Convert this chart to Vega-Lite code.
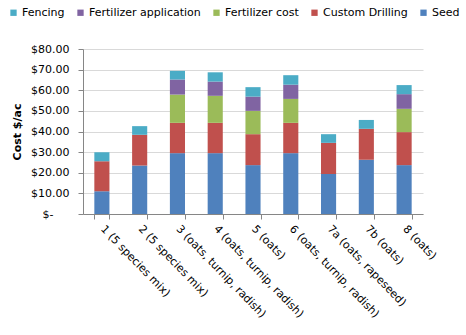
{
  "$schema": "https://vega.github.io/schema/vega-lite/v6.json",
  "width": 340,
  "height": 165,
  "autosize": {"type": "none"},
  "padding": {"left": 83, "top": 49, "right": 43, "bottom": 121},
  "background": "white",
  "config": {
    "font": "DejaVu Sans",
    "view": {"stroke": null},
    "axis": {"labelFont": "DejaVu Sans", "titleFont": "DejaVu Sans", "labelColor": "#000", "titleColor": "#000"},
    "legend": {"labelFont": "DejaVu Sans"}
  },
  "data": {
    "values": [
      {"trial": "1 (5 species mix)", "cost": "Seed", "value": 11.0},
      {"trial": "1 (5 species mix)", "cost": "Custom Drilling", "value": 14.6},
      {"trial": "1 (5 species mix)", "cost": "Fencing", "value": 4.4},
      {"trial": "2 (5 species mix)", "cost": "Seed", "value": 23.5},
      {"trial": "2 (5 species mix)", "cost": "Custom Drilling", "value": 14.9},
      {"trial": "2 (5 species mix)", "cost": "Fencing", "value": 4.2},
      {"trial": "3 (oats, turnip, radish)", "cost": "Seed", "value": 29.5},
      {"trial": "3 (oats, turnip, radish)", "cost": "Custom Drilling", "value": 14.7},
      {"trial": "3 (oats, turnip, radish)", "cost": "Fertilizer cost", "value": 13.7},
      {"trial": "3 (oats, turnip, radish)", "cost": "Fertilizer application", "value": 7.3},
      {"trial": "3 (oats, turnip, radish)", "cost": "Fencing", "value": 4.2},
      {"trial": "4 (oats, turnip, radish)", "cost": "Seed", "value": 29.5},
      {"trial": "4 (oats, turnip, radish)", "cost": "Custom Drilling", "value": 14.7},
      {"trial": "4 (oats, turnip, radish)", "cost": "Fertilizer cost", "value": 13.1},
      {"trial": "4 (oats, turnip, radish)", "cost": "Fertilizer application", "value": 6.9},
      {"trial": "4 (oats, turnip, radish)", "cost": "Fencing", "value": 4.5},
      {"trial": "5 (oats)", "cost": "Seed", "value": 23.7},
      {"trial": "5 (oats)", "cost": "Custom Drilling", "value": 15.0},
      {"trial": "5 (oats)", "cost": "Fertilizer cost", "value": 11.3},
      {"trial": "5 (oats)", "cost": "Fertilizer application", "value": 6.9},
      {"trial": "5 (oats)", "cost": "Fencing", "value": 4.6},
      {"trial": "6 (oats, turnip, radish)", "cost": "Seed", "value": 29.5},
      {"trial": "6 (oats, turnip, radish)", "cost": "Custom Drilling", "value": 14.7},
      {"trial": "6 (oats, turnip, radish)", "cost": "Fertilizer cost", "value": 11.6},
      {"trial": "6 (oats, turnip, radish)", "cost": "Fertilizer application", "value": 6.9},
      {"trial": "6 (oats, turnip, radish)", "cost": "Fencing", "value": 4.6},
      {"trial": "7a (oats, rapeseed)", "cost": "Seed", "value": 19.4},
      {"trial": "7a (oats, rapeseed)", "cost": "Custom Drilling", "value": 15.1},
      {"trial": "7a (oats, rapeseed)", "cost": "Fencing", "value": 4.2},
      {"trial": "7b (oats)", "cost": "Seed", "value": 26.3},
      {"trial": "7b (oats)", "cost": "Custom Drilling", "value": 15.0},
      {"trial": "7b (oats)", "cost": "Fencing", "value": 4.3},
      {"trial": "8 (oats)", "cost": "Seed", "value": 23.7},
      {"trial": "8 (oats)", "cost": "Custom Drilling", "value": 16.0},
      {"trial": "8 (oats)", "cost": "Fertilizer cost", "value": 11.3},
      {"trial": "8 (oats)", "cost": "Fertilizer application", "value": 7.1},
      {"trial": "8 (oats)", "cost": "Fencing", "value": 4.4}
    ]
  },
  "mark": {"type": "bar"},
  "encoding": {
    "x": {
      "field": "trial",
      "type": "nominal",
      "sort": null,
      "title": null,
      "scale": {"paddingInner": 0.6, "paddingOuter": 0.3},
      "axis": {
        "labelAngle": 46,
        "labelAlign": "left",
        "labelBaseline": "middle",
        "labelFontSize": 11,
        "labelPadding": 8,
        "tickBand": "extent",
        "tickSize": 5,
        "tickColor": "#868686",
        "domainColor": "#868686",
        "labelLimit": 200
      }
    },
    "y": {
      "field": "value",
      "type": "quantitative",
      "aggregate": "sum",
      "stack": "zero",
      "title": "Cost $/ac",
      "scale": {"domain": [0, 80]},
      "axis": {
        "values": [0, 10, 20, 30, 40, 50, 60, 70, 80],
        "labelExpr": "datum.value == 0 ? '$-\u2800\u2800' : '$' + format(datum.value, '.2f')",
        "labelFontSize": 11,
        "labelPadding": 9,
        "tickSize": 5,
        "tickColor": "#868686",
        "domainColor": "#868686",
        "gridColor": "#D9D9D9",
        "titleFontSize": 11,
        "titleFontWeight": "bold",
        "titlePadding": 8
      }
    },
    "color": {
      "field": "cost",
      "type": "nominal",
      "sort": ["Fencing", "Fertilizer application", "Fertilizer cost", "Custom Drilling", "Seed"],
      "scale": {
        "domain": ["Fencing", "Fertilizer application", "Fertilizer cost", "Custom Drilling", "Seed"],
        "range": ["#4BACC6", "#8064A2", "#9BBB59", "#C0504D", "#4F81BD"]
      },
      "legend": {
        "title": null,
        "orient": "none",
        "legendX": -75,
        "legendY": -42,
        "direction": "horizontal",
        "columns": 5,
        "symbolType": "square",
        "symbolSize": 40,
        "symbolStrokeWidth": 0,
        "labelFontSize": 11,
        "labelOffset": 3,
        "columnPadding": 10
      }
    },
    "order": {"field": "stackOrder", "type": "quantitative"}
  },
  "transform": [
    {"calculate": "indexof(['Seed','Custom Drilling','Fertilizer cost','Fertilizer application','Fencing'], datum.cost)", "as": "stackOrder"}
  ]
}
